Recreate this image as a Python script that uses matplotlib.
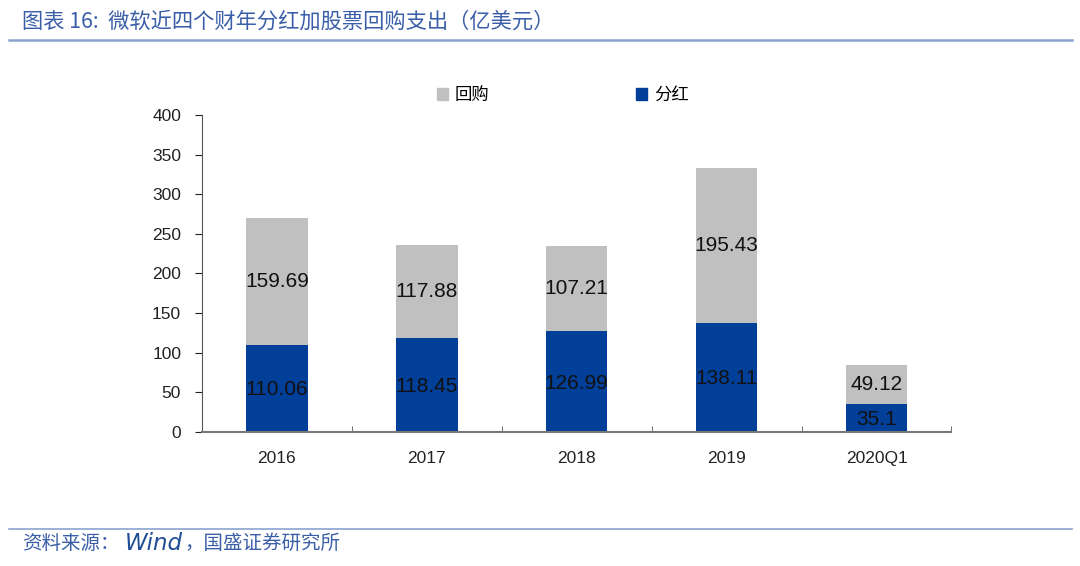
import numpy as np
import matplotlib.pyplot as plt
from matplotlib.patches import Patch
from matplotlib.lines import Line2D

plt.rcParams['font.family'] = ['Liberation Sans', 'Noto Sans CJK SC', 'DejaVu Sans']

# 数据
years = ['2016', '2017', '2018', '2019', '2020Q1']
dividend = [110.06, 118.45, 126.99, 138.11, 35.1]
buyback = [159.69, 117.88, 107.21, 195.43, 49.12]
div_labels = ['110.06', '118.45', '126.99', '138.11', '35.1']
buy_labels = ['159.69', '117.88', '107.21', '195.43', '49.12']

blue = '#023f98'
grey = '#c0c0c0'
title_blue = '#3a5ea8'
line_blue = '#8ba3cf'

fig = plt.figure(figsize=(10.8, 5.66), dpi=100)
ax = fig.add_axes([0.187, 0.2367, 0.694, 0.5603])

x = np.arange(len(years))
w = 0.41
ax.bar(x, dividend, w, color=blue, zorder=2)
ax.bar(x, buyback, w, bottom=dividend, color=grey, zorder=2)

for i in range(len(years)):
    ax.text(x[i], dividend[i] / 2 - 2, div_labels[i], ha='center', va='center',
            fontsize=15, color='#111111', family='Liberation Sans')
    ax.text(x[i], dividend[i] + buyback[i] / 2, buy_labels[i], ha='center', va='center',
            fontsize=15, color='#111111', family='Liberation Sans')

ax.set_xlim(-0.5, len(years) - 0.5)
ax.set_ylim(0, 400)
ax.set_yticks(np.arange(0, 401, 50))
ax.tick_params(axis='y', direction='out', length=5, labelsize=12.5, colors='#222222', pad=10)
ax.set_xticks(x)
ax.set_xticklabels(years)
ax.tick_params(axis='x', which='major', length=0, labelsize=12.5, colors='#222222', pad=14)
ax.set_xticks(np.arange(0.5, len(years), 1), minor=True)
ax.tick_params(axis='x', which='minor', direction='in', length=4, color='#555555')

for s in ['top', 'right']:
    ax.spines[s].set_visible(False)
ax.spines['left'].set_color('#555555')
ax.spines['bottom'].set_color('#777777')
ax.spines['bottom'].set_linewidth(1.5)

handles = [Patch(color=grey, label='回购'), Patch(color=blue, label='分红')]
fig.legend(handles=handles, loc='center', bbox_to_anchor=(0.521, 0.832), ncol=2, frameon=False,
           prop={'family': ['Noto Sans CJK SC'], 'size': 12.5}, handlelength=0.65, handleheight=0.65,
           handletextpad=0.4, columnspacing=8.4)

# 标题与来源
fig.text(0.02, 0.962, '图表 16:  微软近四个财年分红加股票回购支出（亿美元）', fontsize=15.3,
         color=title_blue, style='italic', va='center', family=['Noto Sans CJK SC', 'DejaVu Sans'])
fig.add_artist(Line2D([0.008, 0.993], [0.929, 0.929], color=line_blue, lw=1.8))
fig.add_artist(Line2D([0.008, 0.993], [0.065, 0.065], color=line_blue, lw=1.2))
fig.text(0.02, 0.04, '资料来源：', fontsize=14, color=title_blue, va='center',
         family=['Noto Sans CJK SC'])
fig.text(0.1157, 0.04, 'Wind', fontsize=16.5, color='#1f4e96', va='center', style='italic',
         family='DejaVu Sans')
fig.text(0.171, 0.04, '，国盛证券研究所', fontsize=14, color=title_blue, va='center',
         family=['Noto Sans CJK SC'])

fig.savefig('out.png', dpi=100)
